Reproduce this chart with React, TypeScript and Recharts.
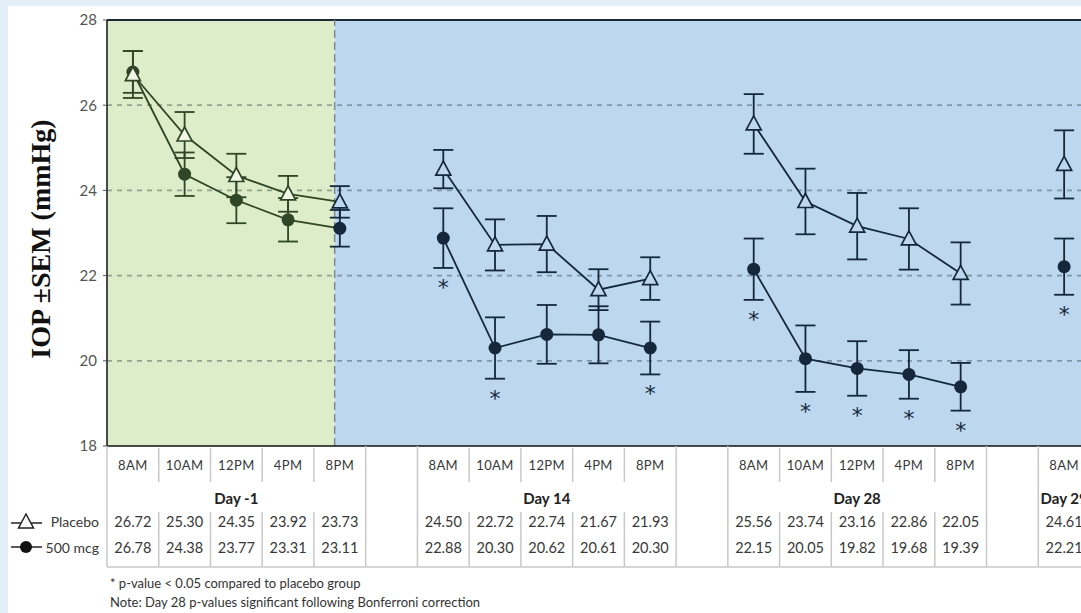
import {
  ComposedChart,
  Line,
  XAxis,
  YAxis,
  ErrorBar,
  ReferenceArea,
  ReferenceLine,
} from "recharts";

const TIMES = ["8AM", "10AM", "12PM", "4PM", "8PM"];
const DAYS = ["Day -1", "Day 14", "Day 28", "Day 29"];

const PLACEBO = [
  [26.72, 25.3, 24.35, 23.92, 23.73],
  [24.5, 22.72, 22.74, 21.67, 21.93],
  [25.56, 23.74, 23.16, 22.86, 22.05],
  [24.61],
];
const MCG_500 = [
  [26.78, 24.38, 23.77, 23.31, 23.11],
  [22.88, 20.3, 20.62, 20.61, 20.3],
  [22.15, 20.05, 19.82, 19.68, 19.39],
  [22.21],
];
const PLACEBO_SEM = [
  [0.55, 0.54, 0.51, 0.42, 0.37],
  [0.45, 0.6, 0.66, 0.48, 0.5],
  [0.7, 0.77, 0.78, 0.72, 0.73],
  [0.8],
];
const MCG_SEM = [
  [0.49, 0.51, 0.54, 0.51, 0.43],
  [0.7, 0.72, 0.69, 0.67, 0.62],
  [0.72, 0.78, 0.64, 0.57, 0.56],
  [0.66],
];
const SIGNIFICANT = [
  [false, false, false, false, false],
  [true, true, false, false, true],
  [true, true, true, true, true],
  [true],
];
const Y_TICKS = [18, 20, 22, 24, 26, 28];
const BASELINE_END = 3.9; // where the green Day -1 panel stops

const PAGE_BG = "#e2eef8";
const GREEN_BG = "#ddedc9";
const GREEN_FILL = "#f0f7e6";
const BLUE_BG = "#bcd7ee";
const GREEN_INK = "#2f4627";
const NAVY_INK = "#15283b";
const TEXT = "#383838";
const RULE = "#c8c8c8";
const FONT = "Lato, 'Open Sans', sans-serif";

type Row = {
  slot: number;
  gap: boolean;
  time: string;
  day: string;
  pText: string;
  mText: string;
  pGreen: number | null;
  mGreen: number | null;
  pGreenErr: number | null;
  mGreenErr: number | null;
  pNavy: number | null;
  mNavy: number | null;
  pNavyErr: number | null;
  mNavyErr: number | null;
  star: number | null;
};

const rows: Row[] = [];
DAYS.forEach((day, d) => {
  const n = PLACEBO[d].length;
  PLACEBO[d].forEach((p, t) => {
    const m = MCG_500[d][t];
    const inGreen = d === 0;
    const greenMarker = inGreen && t < n - 1;
    rows.push({
      slot: rows.length,
      gap: false,
      time: TIMES[t],
      day: t === Math.floor((n - 1) / 2) ? day : "",
      pText: p.toFixed(2),
      mText: m.toFixed(2),
      pGreen: inGreen ? p : null,
      mGreen: inGreen ? m : null,
      pGreenErr: greenMarker ? PLACEBO_SEM[d][t] : null,
      mGreenErr: greenMarker ? MCG_SEM[d][t] : null,
      pNavy: greenMarker ? null : p,
      mNavy: greenMarker ? null : m,
      pNavyErr: greenMarker ? null : PLACEBO_SEM[d][t],
      mNavyErr: greenMarker ? null : MCG_SEM[d][t],
      star: SIGNIFICANT[d][t] ? m - MCG_SEM[d][t] : null,
    });
  });
  if (d < DAYS.length - 1) {
    rows.push({
      slot: rows.length,
      gap: true,
      time: "",
      day: "",
      pText: "",
      mText: "",
      pGreen: null,
      mGreen: null,
      pGreenErr: null,
      mGreenErr: null,
      pNavy: null,
      mNavy: null,
      pNavyErr: null,
      mNavyErr: null,
      star: null,
    });
  }
});
const SLOTS = rows.map((r) => r.slot);

const triPoints = (cx: number, cy: number) =>
  `${cx},${cy - 8} ${cx - 7.5},${cy + 6} ${cx + 7.5},${cy + 6}`;

function makeTriangle(stroke: string, fill: string, hideWhen?: (r: Row) => boolean) {
  return (props: any) => {
    const { cx, cy, payload, index } = props;
    if (cx == null || cy == null || (hideWhen && hideWhen(payload))) return <g key={`t${index}`} />;
    return (
      <polygon
        key={`t${index}`}
        points={triPoints(cx, cy)}
        fill={fill}
        stroke={stroke}
        strokeWidth={1.7}
      />
    );
  };
}

function makeCircle(color: string, hideWhen?: (r: Row) => boolean) {
  return (props: any) => {
    const { cx, cy, payload, index } = props;
    if (cx == null || cy == null || (hideWhen && hideWhen(payload))) return <g key={`c${index}`} />;
    return <circle key={`c${index}`} cx={cx} cy={cy} r={6.5} fill={color} />;
  };
}

const renderStar = (props: any) => {
  const { cx, cy, index } = props;
  if (cx == null || cy == null) return <g key={`s${index}`} />;
  return (
    <text
      key={`s${index}`}
      x={cx}
      y={cy + 27}
      textAnchor="middle"
      fontSize={22}
      fontFamily="'DejaVu Sans', sans-serif"
      fill={NAVY_INK}
    >
      *
    </text>
  );
};

function TableTick(props: any) {
  const { x, y, payload, index, width } = props;
  const half = width / SLOTS.length / 2;
  const row = rows[payload.value];
  const next = rows[payload.value + 1];
  if (!row) return <g />;
  const left = x - half;
  const right = x + half;
  const full = (lx: number, k: string) => (
    <line key={k} x1={lx} x2={lx} y1={y} y2={y + 121} stroke={RULE} strokeWidth={1.5} />
  );
  const parts: any[] = [];

  if (index === 0) {
    parts.push(full(left, "l0"));
    const sx = left - 81;
    parts.push(
      <g key="legend">
        <line x1={sx - 15} x2={sx + 16} y1={y + 77} y2={y + 77} stroke="#222" strokeWidth={1.5} />
        <polygon points={triPoints(sx, y + 76)} fill="#fff" stroke="#222" strokeWidth={1.5} />
        <text x={left - 8} y={y + 75} textAnchor="end" dominantBaseline="central" fontSize={14} fontFamily={FONT} fill={TEXT}>
          Placebo
        </text>
        <line x1={sx - 15} x2={sx + 16} y1={y + 101} y2={y + 101} stroke="#222" strokeWidth={1.5} />
        <circle cx={sx} cy={y + 101} r={6} fill="#111" />
        <text x={left - 8} y={y + 101} textAnchor="end" dominantBaseline="central" fontSize={14} fontFamily={FONT} fill={TEXT}>
          500 mcg
        </text>
      </g>
    );
  }

  if (row.gap) {
    parts.push(full(left, "gl"), full(right, "gr"));
  } else if (!next) {
    parts.push(full(right, "end"));
  } else if (!next.gap) {
    parts.push(
      <line key="d1" x1={right} x2={right} y1={y + 2} y2={y + 36} stroke={RULE} strokeWidth={1.5} />,
      <line key="d2" x1={right} x2={right} y1={y + 66} y2={y + 121} stroke={RULE} strokeWidth={1.5} />
    );
  }

  parts.push(
    <line key="b" x1={left} x2={right} y1={y + 121} y2={y + 121} stroke={RULE} strokeWidth={1.5} />
  );

  return (
    <g>
      {parts}
      <text x={x} y={y + 19} textAnchor="middle" dominantBaseline="central" fontSize={13} letterSpacing={0.4} fontFamily={FONT} fill={TEXT}>
        {row.time}
      </text>
      {row.day && (
        <text x={x} y={y + 52} textAnchor="middle" dominantBaseline="central" fontSize={15} fontWeight="bold" fontFamily={FONT} fill="#222">
          {row.day}
        </text>
      )}
      <text x={x} y={y + 75} textAnchor="middle" dominantBaseline="central" fontSize={14.5} fontFamily={FONT} fill={TEXT}>
        {row.pText}
      </text>
      <text x={x} y={y + 101} textAnchor="middle" dominantBaseline="central" fontSize={14.5} fontFamily={FONT} fill={TEXT}>
        {row.mText}
      </text>
    </g>
  );
}

const YLabel = (props: any) => {
  const { viewBox } = props;
  const cx = viewBox.x + 32;
  const cy = viewBox.y + viewBox.height / 2 + 6;
  return (
    <text
      x={cx}
      y={cy}
      transform={`rotate(-90, ${cx}, ${cy})`}
      textAnchor="middle"
      dominantBaseline="central"
      fontSize={28}
      fontWeight="bold"
      fontFamily="'Liberation Serif', serif"
      fill="#111"
    >
      IOP ±SEM (mmHg)
    </text>
  );
};

export default function App() {
  const lastSlot = rows.length - 0.5;
  return (
    <div style={{ position: "fixed", inset: 0, background: PAGE_BG, overflow: "hidden" }}>
      <div style={{ position: "absolute", left: 8, top: 6, width: 1100, height: 640, background: "#fff" }}>
        <ComposedChart
          width={1082}
          height={607}
          data={rows}
          margin={{ top: 14, right: 0, bottom: 45, left: 0 }}
        >
          <XAxis
            type="number"
            dataKey="slot"
            domain={[-0.5, lastSlot]}
            ticks={SLOTS}
            height={122}
            interval={0}
            tickSize={0}
            tickMargin={0}
            tickLine={false}
            axisLine={{ stroke: "#111", strokeWidth: 1.5 }}
            tick={<TableTick />}
          />
          <YAxis
            domain={[18, 28]}
            ticks={Y_TICKS}
            width={99}
            tickSize={4}
            tickMargin={6}
            axisLine={{ stroke: "#111", strokeWidth: 1.5 }}
            tickLine={{ stroke: "#555" }}
            tick={{ fill: "#555", fontSize: 15, fontFamily: FONT }}
            label={<YLabel />}
          />
          <ReferenceArea x1={-0.5} x2={BASELINE_END} fill={GREEN_BG} fillOpacity={1} stroke="none" />
          <ReferenceArea x1={BASELINE_END} x2={lastSlot} fill={BLUE_BG} fillOpacity={1} stroke="none" />
          {Y_TICKS.slice(1, -1).map((t) => (
            <ReferenceLine
              key={t}
              y={t}
              stroke="rgba(60,70,80,0.45)"
              strokeWidth={1.8}
              strokeDasharray="5 5"
            />
          ))}
          <ReferenceLine y={28} stroke="#1c2a36" strokeWidth={2} />
          <ReferenceLine x={BASELINE_END} stroke="#7d8a90" strokeWidth={1.5} strokeDasharray="8 4" />

          <Line
            dataKey="mGreen"
            stroke={GREEN_INK}
            strokeWidth={1.8}
            dot={makeCircle(GREEN_INK, (r) => r.mNavy != null)}
            activeDot={false}
            isAnimationActive={false}
          >
            <ErrorBar dataKey="mGreenErr" width={10} stroke={GREEN_INK} strokeWidth={1.8} direction="y" />
          </Line>
          <Line
            dataKey="pGreen"
            stroke={GREEN_INK}
            strokeWidth={1.8}
            dot={makeTriangle(GREEN_INK, GREEN_FILL, (r) => r.pNavy != null)}
            activeDot={false}
            isAnimationActive={false}
          >
            <ErrorBar dataKey="pGreenErr" width={10} stroke={GREEN_INK} strokeWidth={1.8} direction="y" />
          </Line>
          <Line
            dataKey="mNavy"
            stroke={NAVY_INK}
            strokeWidth={1.8}
            dot={makeCircle(NAVY_INK)}
            activeDot={false}
            isAnimationActive={false}
          >
            <ErrorBar dataKey="mNavyErr" width={10} stroke={NAVY_INK} strokeWidth={1.8} direction="y" />
          </Line>
          <Line
            dataKey="pNavy"
            stroke={NAVY_INK}
            strokeWidth={1.8}
            dot={makeTriangle(NAVY_INK, BLUE_BG)}
            activeDot={false}
            isAnimationActive={false}
          >
            <ErrorBar dataKey="pNavyErr" width={10} stroke={NAVY_INK} strokeWidth={1.8} direction="y" />
          </Line>
          <Line
            dataKey="star"
            stroke="none"
            dot={renderStar}
            activeDot={false}
            isAnimationActive={false}
          />
        </ComposedChart>
        <div
          style={{
            position: "absolute",
            left: 102,
            top: 568,
            fontFamily: FONT,
            fontSize: 13,
            lineHeight: "19px",
            color: "#333",
            whiteSpace: "nowrap",
          }}
        >
          <div>* p-value &lt; 0.05 compared to placebo group</div>
          <div>Note: Day 28 p-values significant following Bonferroni correction</div>
        </div>
      </div>
    </div>
  );
}
